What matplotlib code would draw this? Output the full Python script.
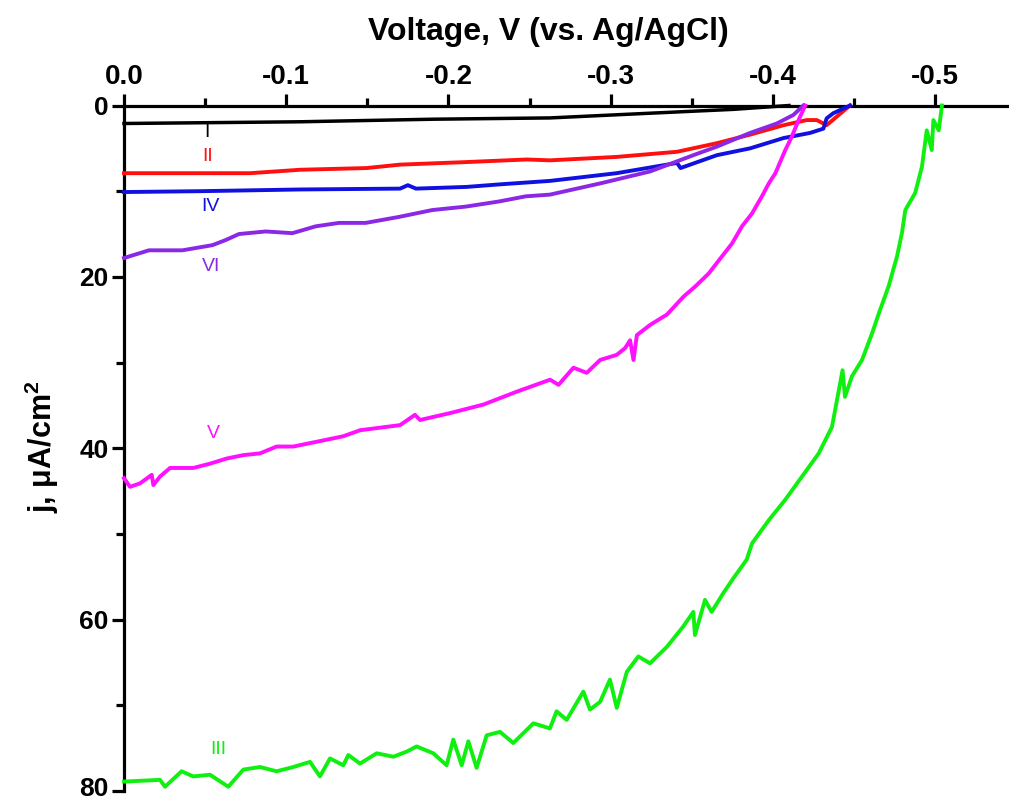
import matplotlib
matplotlib.use("Agg")
import matplotlib.pyplot as plt
import matplotlib.transforms as mtransforms

plt.rcParams['font.family'] = ['Liberation Sans', 'DejaVu Sans']
plt.rcParams['axes.unicode_minus'] = False
plt.rcParams['mathtext.fontset'] = 'custom'
plt.rcParams['mathtext.rm'] = 'Liberation Sans'
plt.rcParams['mathtext.bf'] = 'Liberation Sans:bold'
plt.rcParams['mathtext.it'] = 'Liberation Sans:italic'

# ---------------- data ----------------
I_V = [0.0, -0.1085, -0.1907, -0.2626, -0.3243, -0.3757, -0.4100]
I_j = [2.1, 1.9, 1.6, 1.45, 0.9, 0.45, 0.0]

II_V = [0.0, -0.0469, -0.0777, -0.1085, -0.1496, -0.1702, -0.2113, -0.2483,
        -0.2626, -0.3037, -0.3410, -0.3655, -0.3860, -0.4066, -0.4209,
        -0.4271, -0.4332, -0.4394, -0.4476]
II_j = [7.9, 7.9, 7.9, 7.5, 7.3, 6.9, 6.6, 6.3,
        6.4, 6.0, 5.4, 4.4, 3.4, 2.3, 1.7,
        1.7, 2.3, 1.3, 0.0]

IV_V = [0.0, -0.0469, -0.1085, -0.1702, -0.1750, -0.1800, -0.2113, -0.2319,
        -0.2626, -0.3037, -0.3410, -0.3431, -0.3655, -0.3860, -0.4066,
        -0.4230, -0.4312, -0.4332, -0.4373, -0.4476]
IV_j = [10.1, 10.0, 9.8, 9.7, 9.3, 9.7, 9.5, 9.2,
        8.8, 7.9, 6.7, 7.3, 5.8, 5.0, 3.8,
        3.2, 2.7, 1.5, 0.9, 0.0]

VI_V = [0.0, -0.0154, -0.0360, -0.0545, -0.0627, -0.0709, -0.0874, -0.1038,
        -0.1182, -0.1326, -0.1490, -0.1696, -0.1901, -0.2107, -0.2312,
        -0.2477, -0.2626, -0.2934, -0.3243, -0.3510, -0.3655, -0.3860,
        -0.4025, -0.4127, -0.4189]
VI_j = [17.8, 16.9, 16.9, 16.3, 15.7, 15.0, 14.7, 14.9,
        14.1, 13.7, 13.7, 13.0, 12.2, 11.8, 11.2,
        10.6, 10.4, 9.1, 7.7, 5.8, 4.8, 3.2,
        2.1, 1.1, 0.0]

V_V = [0.0, -0.0037, -0.0099, -0.0171, -0.0181, -0.0222, -0.0284, -0.0427,
       -0.0530, -0.0633, -0.0736, -0.0838, -0.0941, -0.1044, -0.1147,
       -0.1250, -0.1352, -0.1455, -0.1702, -0.1794, -0.1825, -0.2010,
       -0.2216, -0.2421, -0.2627, -0.2679, -0.2771, -0.2853, -0.2935,
       -0.3038, -0.3090, -0.3120, -0.3141, -0.3162, -0.3244, -0.3347,
       -0.3450, -0.3523, -0.3605, -0.3687, -0.3749, -0.3810, -0.3872,
       -0.3933, -0.3975, -0.4016, -0.4077, -0.4118, -0.4159, -0.4200]
V_j = [43.5, 44.5, 44.1, 43.1, 44.3, 43.3, 42.3, 42.3,
       41.8, 41.2, 40.8, 40.6, 39.8, 39.8, 39.4,
       39.0, 38.6, 37.9, 37.3, 36.1, 36.7, 35.9,
       34.9, 33.4, 32.0, 32.6, 30.6, 31.2, 29.7,
       29.1, 28.3, 27.4, 29.7, 26.8, 25.6, 24.4,
       22.3, 21.1, 19.6, 17.6, 16.1, 14.1, 12.6,
       10.6, 9.1, 7.9, 5.2, 3.6, 1.7, 0.0]

III_V = [0.0, -0.0222, -0.0253, -0.0355, -0.0427, -0.0530, -0.0643, -0.0736,
         -0.0838, -0.0941, -0.1044, -0.1147, -0.1208, -0.1270, -0.1352,
         -0.1383, -0.1455, -0.1558, -0.1661, -0.1743, -0.1804, -0.1907,
         -0.1989, -0.2030, -0.2082, -0.2123, -0.2174, -0.2236, -0.2318,
         -0.2400, -0.2524, -0.2626, -0.2667, -0.2729, -0.2832, -0.2873,
         -0.2935, -0.2996, -0.3038, -0.3100, -0.3171, -0.3243, -0.3346,
         -0.3448, -0.3510, -0.3520, -0.3582, -0.3623, -0.3695, -0.3756,
         -0.3839, -0.3872, -0.3975, -0.4077, -0.4180, -0.4283, -0.4365,
         -0.4430, -0.4445, -0.4488, -0.4550, -0.4612, -0.4653, -0.4714,
         -0.4766, -0.4796, -0.4817, -0.4878, -0.4920, -0.4949, -0.4980,
         -0.4990, -0.5023, -0.5043]
III_j = [78.9, 78.7, 79.5, 77.7, 78.3, 78.1, 79.5, 77.5,
         77.2, 77.7, 77.2, 76.6, 78.3, 76.2, 77.0,
         75.8, 76.8, 75.6, 76.0, 75.4, 74.8, 75.6,
         77.0, 74.0, 77.0, 74.2, 77.3, 73.5, 73.1,
         74.4, 72.1, 72.7, 70.7, 71.7, 68.4, 70.5,
         69.6, 67.0, 70.3, 66.1, 64.3, 65.1, 63.2,
         60.8, 59.1, 61.8, 57.7, 59.1, 56.9, 55.2,
         53.0, 51.1, 48.4, 46.0, 43.3, 40.6, 37.5,
         30.9, 34.0, 31.6, 29.7, 26.6, 24.3, 21.1,
         17.6, 14.9, 12.2, 10.2, 7.1, 2.9, 5.2,
         1.7, 2.9, 0.0]

curve_names = ['I', 'II', 'III', 'IV', 'V', 'VI']
label_V = [-0.0510, -0.0518, -0.0582, -0.0530, -0.0550, -0.0540]
label_j = [3.15, 5.95, 75.1, 11.8, 38.3, 18.8]

x_ticks = [0.0, -0.1, -0.2, -0.3, -0.4, -0.5]
x_tick_labels = ['0.0', '-0.1', '-0.2', '-0.3', '-0.4', '-0.5']
x_minor = [-0.05, -0.15, -0.25, -0.35, -0.45]
y_ticks = [0, 20, 40, 60, 80]
y_minor = [10, 30, 50, 70]

# ---------------- figure ----------------
W, H = 1009, 802
fig = plt.figure(figsize=(W / 100, H / 100), dpi=100)
ax = fig.add_axes([124 / W, 1 - 791 / H, (W - 124) / W, (791 - 105.5) / H])

colors = {'I': 'black', 'II': '#ff1010', 'III': '#10f010', 'IV': '#1010e0',
          'V': '#ff10ff', 'VI': '#8a28e6'}
data = {'I': (I_V, I_j), 'II': (II_V, II_j), 'III': (III_V, III_j),
        'IV': (IV_V, IV_j), 'V': (V_V, V_j), 'VI': (VI_V, VI_j)}

for name in ['I', 'II', 'IV', 'VI', 'V', 'III']:
    xs, ys = data[name]
    lw = 2.5 if name == 'I' else 2.8
    ax.plot(xs, ys, color=colors[name], lw=lw, solid_joinstyle='round',
            clip_on=False, zorder=3)

for name, lv, lj in zip(curve_names, label_V, label_j):
    ax.text(lv, lj, name, color=colors[name], fontsize=14, ha='center',
            va='center', zorder=4)

ax.set_xlim(0, -(W - 124) / 1622)
ax.set_ylim(80, 0)

for s in ['bottom', 'right']:
    ax.spines[s].set_visible(False)
for s in ['top', 'left']:
    ax.spines[s].set_linewidth(2.3)

ax.xaxis.tick_top()
ax.set_xticks(x_ticks)
ax.set_xticklabels(x_tick_labels)
ax.set_xticks(x_minor, minor=True)
ax.set_yticks(y_ticks)
ax.set_yticks(y_minor, minor=True)

ax.tick_params(which='major', direction='out', length=9, width=2.3,
               labelsize=20, pad=2)
ax.tick_params(axis='y', which='major', labelsize=19)
ax.tick_params(which='minor', direction='out', length=6, width=2.3)
for lab in ax.get_xticklabels() + ax.get_yticklabels():
    lab.set_fontweight('bold')

# the bottom label sits slightly above its tick in the reference
ylabs = ax.get_yticklabels()
shift = mtransforms.ScaledTranslation(0, 4 / 100, fig.dpi_scale_trans)
ylabs[-1].set_transform(ylabs[-1].get_transform() + shift)

fig.text(548 / W, 1 - 32 / H, 'Voltage, V (vs. Ag/AgCl)', ha='center',
         va='center', fontsize=23, fontweight='bold')
fig.text(42 / W, 1 - 447 / H, r'j, μA/cm$^\mathbf{2}$', ha='center',
         va='center', rotation=90, fontsize=22, fontweight='bold')

fig.savefig('out.png', dpi=100)
